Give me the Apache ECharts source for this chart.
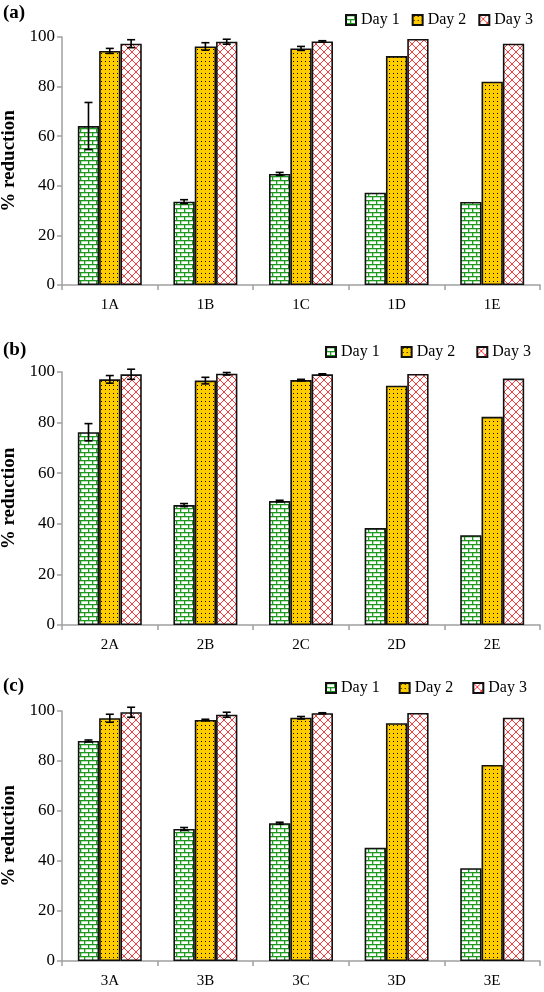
<!DOCTYPE html>
<html><head><meta charset="utf-8">
<script src="https://cdn.jsdelivr.net/npm/echarts@6/dist/echarts.min.js"></script>
<style>html,body{margin:0;padding:0;background:#fff}#c{width:544px;height:992px}</style>
</head><body><div id="c"></div>
<script>
var seriesNames = ['Day 1', 'Day 2', 'Day 3'];
var panelLabels = ['(a)', '(b)', '(c)'];
var yTicks = [0, 20, 40, 60, 80, 100];

var catsA = ['1A', '1B', '1C', '1D', '1E'];
var day1A = [64.1, 33.6, 44.8, 37.2, 33.5];
var day2A = [94.4, 96.2, 95.4, 92.3, 82.0];
var day3A = [97.3, 98.1, 98.2, 99.2, 97.3];
var err1A = [9.5, 0.8, 0.6, 0, 0];
var err2A = [1.0, 1.5, 0.8, 0, 0];
var err3A = [1.6, 1.0, 0.3, 0, 0];

var catsB = ['2A', '2B', '2C', '2D', '2E'];
var day1B = [76.2, 47.4, 49.0, 38.3, 35.5];
var day2B = [97.1, 96.6, 96.8, 94.6, 82.3];
var day3B = [99.1, 99.3, 99.1, 99.2, 97.4];
var err1B = [3.4, 0.6, 0.3, 0, 0];
var err2B = [1.5, 1.3, 0.3, 0, 0];
var err3B = [2.0, 0.5, 0.2, 0, 0];

var catsC = ['3A', '3B', '3C', '3D', '3E'];
var day1C = [88.0, 52.8, 55.1, 45.3, 37.1];
var day2C = [97.1, 96.4, 97.3, 95.1, 78.4];
var day3C = [99.5, 98.5, 99.1, 99.2, 97.3];
var err1C = [0.4, 0.6, 0.4, 0, 0];
var err2C = [1.6, 0.3, 0.5, 0, 0];
var err3C = [2.0, 1.0, 0.2, 0, 0];

function mkCanvas(w, h) { var c = document.createElement('canvas'); c.width = w; c.height = h; return c; }
function brickPattern() {
  var c = mkCanvas(8, 8), g = c.getContext('2d');
  g.fillStyle = '#fff'; g.fillRect(0, 0, 8, 8);
  g.fillStyle = '#1e9a1e';
  g.fillRect(0, 0, 8, 1.3); g.fillRect(0, 4, 8, 1.3);
  g.fillRect(0, 0, 1.3, 4); g.fillRect(4, 4, 1.3, 4);
  return c;
}
function dotPattern() {
  var c = mkCanvas(4, 4), g = c.getContext('2d');
  g.fillStyle = '#ffcc00'; g.fillRect(0, 0, 4, 4);
  g.fillStyle = '#000'; g.fillRect(1, 1, 1, 1);
  return c;
}
function crossPattern() {
  var c = mkCanvas(8, 8), g = c.getContext('2d');
  g.fillStyle = '#fff'; g.fillRect(0, 0, 8, 8);
  g.strokeStyle = '#ff3a3a'; g.lineWidth = 1;
  g.beginPath(); g.moveTo(0, 0); g.lineTo(8, 8); g.moveTo(8, 0); g.lineTo(0, 8); g.stroke();
  return c;
}
var fills = [
  { image: brickPattern(), repeat: 'repeat' },
  { image: dotPattern(), repeat: 'repeat' },
  { image: crossPattern(), repeat: 'repeat' }
];

var BW = 0.223;
var panels = [
  { cats: catsA, vals: [day1A, day2A, day3A], errs: [err1A, err2A, err3A], top: 37, height: 248, legTop: 7, legLeft: 340, legGap: 12, labTop: 4 },
  { cats: catsB, vals: [day1B, day2B, day3B], errs: [err1B, err2B, err3B], top: 372, height: 253, legTop: 339, legLeft: 320, legGap: 21, labTop: 341 },
  { cats: catsC, vals: [day1C, day2C, day3C], errs: [err1C, err2C, err3C], top: 711, height: 250, legTop: 675, legLeft: 320, legGap: 19, labTop: 677 }
];

var grid = [], xAxis = [], yAxis = [], series = [], legend = [], graphic = [];
var serif = '"Liberation Serif", "Times New Roman", serif';
panels.forEach(function (p, gi) {
  grid.push({ left: 62, right: 4, top: p.top, height: p.height, containLabel: false, outerBoundsMode: 'none' });
  xAxis.push({
    type: 'category', gridIndex: gi, data: p.cats,
    axisLine: { lineStyle: { color: '#a0a0a0', width: 1.5 } },
    axisTick: { show: true, length: 5, lineStyle: { color: '#a0a0a0', width: 1.5 } },
    axisLabel: { color: '#000', fontFamily: serif, fontSize: 15, margin: 13 }
  });
  yAxis.push({
    type: 'value', gridIndex: gi, min: yTicks[0], max: yTicks[yTicks.length - 1], interval: 20,
    name: '% reduction', nameLocation: 'middle', nameGap: 38,
    nameTextStyle: { color: '#000', fontFamily: serif, fontSize: 19, fontWeight: 'bold' },
    axisLine: { show: true, lineStyle: { color: '#a0a0a0', width: 1.5 } },
    axisTick: { show: true, length: 5, lineStyle: { color: '#a0a0a0', width: 1.5 } },
    splitLine: { show: false },
    axisLabel: { color: '#000', fontFamily: serif, fontSize: 17, margin: 7 }
  });
  legend.push({
    data: seriesNames, top: p.legTop, left: p.legLeft, itemGap: p.legGap,
    itemWidth: 10, itemHeight: 10, icon: 'rect',
    textStyle: { color: '#000', fontFamily: serif, fontSize: 16 },
    selectedMode: false
  });
  graphic.push({
    type: 'text', left: 3, top: p.labTop,
    style: { text: panelLabels[gi], font: 'bold 19px ' + serif, fill: '#000' }
  });
  for (var s = 0; s < 3; s++) {
    series.push({
      type: 'bar', name: seriesNames[s], xAxisIndex: gi, yAxisIndex: gi,
      data: p.vals[s], barWidth: (BW * 100) + '%', barGap: '0%',
      itemStyle: { color: fills[s], borderColor: '#111', borderWidth: 1.6 },
      animation: false
    });
  }
  for (var s2 = 0; s2 < 3; s2++) {
    var d = [];
    p.vals[s2].forEach(function (v, i) {
      var e = p.errs[s2][i];
      if (e > 0) d.push([i, v - e, v + e]);
    });
    (function (idx) {
      series.push({
        type: 'custom', name: 'err' + gi + idx, xAxisIndex: gi, yAxisIndex: gi, z: 5,
        data: d, encode: { x: 0, y: [1, 2] }, animation: false, silent: true,
        renderItem: function (params, api) {
          var cat = api.value(0);
          var lo = api.coord([cat, api.value(1)]);
          var hi = api.coord([cat, api.value(2)]);
          var band = api.size([1, 0])[0];
          var x = lo[0] + (idx - 1) * band * BW;
          var cap = 4;
          var st = { stroke: '#000', lineWidth: 1.6 };
          return {
            type: 'group', children: [
              { type: 'line', shape: { x1: x, y1: lo[1], x2: x, y2: hi[1] }, style: st },
              { type: 'line', shape: { x1: x - cap, y1: hi[1], x2: x + cap, y2: hi[1] }, style: st },
              { type: 'line', shape: { x1: x - cap, y1: lo[1], x2: x + cap, y2: lo[1] }, style: st }
            ]
          };
        }
      });
    })(s2);
  }
});

var chart = echarts.init(document.getElementById('c'));
chart.setOption({
  animation: false, backgroundColor: '#fff',
  grid: grid, xAxis: xAxis, yAxis: yAxis, legend: legend, graphic: graphic, series: series
});
</script></body></html>
